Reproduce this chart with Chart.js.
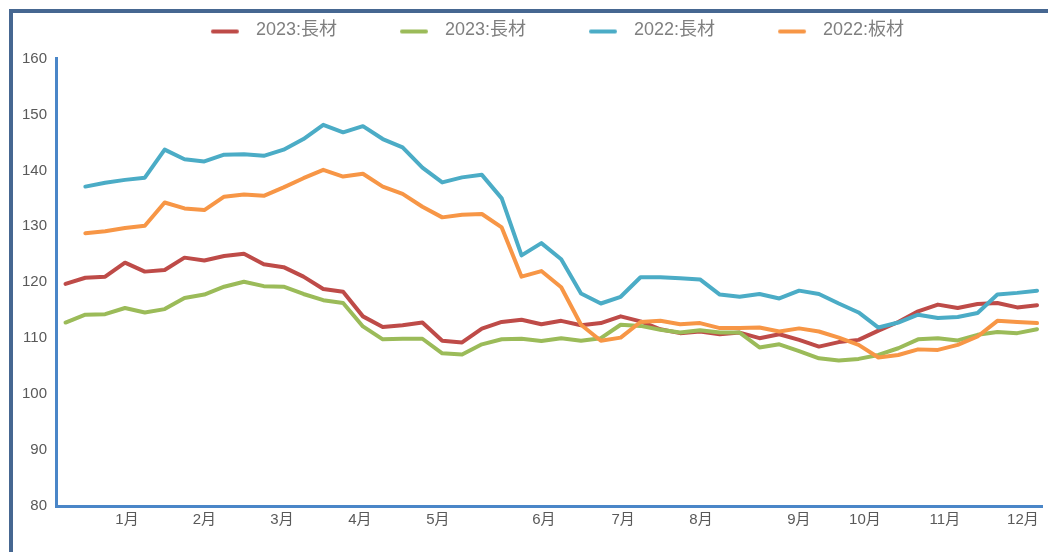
<!DOCTYPE html>
<html>
<head>
<meta charset="utf-8">
<script src="https://cdn.jsdelivr.net/npm/chart.js@4.4.0/dist/chart.umd.min.js"></script>
<style>
html,body{margin:0;padding:0;background:#fff;}
#wrap{position:relative;width:1048px;height:552px;overflow:hidden;background:#fff;}
#frameTop{position:absolute;left:9px;top:9px;width:1039px;height:3.5px;background:#466791;}
#frameLeft{position:absolute;left:9px;top:9px;width:3.5px;height:543px;background:#466791;}
canvas{position:absolute;left:0;top:0;}
</style>
</head>
<body>
<div id="wrap">
  <div id="frameTop"></div>
  <div id="frameLeft"></div>
  <canvas id="c" width="1048" height="552"></canvas>
</div>
<script>
// ---- data (weekly points, index 0..49) ----
const seriesNames = ['2023:長材', '2023:長材', '2022:長材', '2022:板材'];

const long2023a = [119.7,120.8,121.0,123.5,121.9,122.2,124.4,123.9,124.7,125.1,
                   123.2,122.7,121.0,118.8,118.3,113.9,112.0,112.3,112.8,109.55,
                   109.25,111.7,112.9,113.3,112.5,113.1,112.3,112.7,113.9,113.0,
                   111.6,110.9,111.2,110.7,111.0,110.0,110.7,109.7,108.5,109.3,
                   109.7,111.35,112.9,114.8,116.0,115.4,116.1,116.3,115.5,115.9];

const long2023b = [112.8,114.2,114.3,115.4,114.6,115.2,117.2,117.8,119.2,120.1,
                   119.3,119.2,117.9,116.8,116.3,112.1,109.8,109.9,109.9,107.3,
                   107.1,108.9,109.8,109.9,109.5,110.0,109.55,110.0,112.4,112.2,
                   111.5,111.0,111.4,111.0,111.0,108.35,108.9,107.7,106.4,106.0,
                   106.3,107.0,108.2,109.8,110.0,109.6,110.6,111.1,110.9,111.6];

const long2022 = [null,137.1,137.8,138.3,138.7,143.7,142.0,141.6,142.8,142.9,
                  142.6,143.7,145.6,148.15,146.8,147.9,145.6,144.1,140.5,137.85,
                  138.75,139.2,135.0,124.8,127.0,124.1,118.0,116.2,117.4,120.9,
                  120.9,120.7,120.5,117.8,117.4,117.9,117.1,118.5,117.9,116.2,
                  114.6,111.9,112.8,114.2,113.6,113.8,114.5,117.8,118.1,118.5];

const plate2022 = [null,128.75,129.1,129.7,130.1,134.25,133.2,132.9,135.3,135.7,
                   135.45,136.95,138.6,140.1,138.9,139.4,137.1,135.8,133.5,131.6,
                   132.05,132.2,129.8,121.0,122.0,119.1,112.4,109.55,110.1,112.9,
                   113.1,112.5,112.7,111.8,111.8,111.9,111.2,111.75,111.2,110.1,
                   108.8,106.55,107.0,108.0,107.9,108.8,110.3,113.1,112.9,112.7];

// month tick labels and where they sit on the week axis (in week-index units)
const monthLabels = ['1月','2月','3月','4月','5月','6月','7月','8月','9月','10月','11月','12月'];
const monthWeekPos = [3.1,7.0,10.92,14.85,18.78,24.13,28.12,32.05,36.99,40.32,44.35,48.29];

const yTicksMin = 80, yTicksMax = 160, yStep = 10;

// ---- styles ----
const colors = ['#be4b48', '#9bbb59', '#4bacc6', '#f79646'];
const axisColor = '#4a86c8';
const fontFamily = "'Liberation Sans', 'Noto Sans CJK JP', sans-serif";

function toPoints(arr){ return arr.map((v, i) => ({x: i, y: v})); }

function legendIcon(color){
  const c = document.createElement('canvas');
  c.width = 89; c.height = 8;
  const g = c.getContext('2d');
  g.strokeStyle = color; g.lineWidth = 4; g.lineCap = 'round';
  g.beginPath(); g.moveTo(55, 5); g.lineTo(79, 5); g.stroke();
  return c;
}

const allSeries = [long2023a, long2023b, long2022, plate2022];
const datasets = allSeries.map((arr, k) => ({
  label: seriesNames[k],
  data: toPoints(arr),
  borderColor: colors[k],
  backgroundColor: colors[k],
  borderWidth: 4,
  pointRadius: 0,
  pointHoverRadius: 0,
  tension: 0,
  fill: false,
  borderCapStyle: 'round',
  borderJoinStyle: 'round',
  order: 4 - k
}));

// lift the legend row closer to the top frame (as in the reference)
const legendLift = {
  id: 'legendLift',
  afterLayout(chart) {
    const lg = chart.legend;
    if (lg) { lg.top -= 9; lg.bottom -= 9; }
  }
};

new Chart(document.getElementById('c'), {
  type: 'line',
  data: { datasets },
  plugins: [legendLift],
  options: {
    responsive: false,
    devicePixelRatio: 1,
    animation: false,
    events: [],
    layout: { padding: { left: 20, right: 6, top: 1, bottom: 0 } },
    plugins: {
      tooltip: { enabled: false },
      legend: {
        position: 'top',
        align: 'center',
        labels: {
          usePointStyle: true,
          pointStyleWidth: 89,
          padding: 10,
          color: '#7f7f7f',
          font: { family: fontFamily, size: 18 },
          sort: (a, b) => a.datasetIndex - b.datasetIndex,
          generateLabels: (chart) => Chart.defaults.plugins.legend.labels.generateLabels(chart)
            .map(item => Object.assign(item, { pointStyle: legendIcon(colors[item.datasetIndex]) }))
        }
      }
    },
    scales: {
      x: {
        type: 'linear',
        min: -0.48,
        max: 49.25,
        grid: { display: false, drawTicks: false },
        border: { display: true, color: axisColor, width: 3 },
        afterBuildTicks: (s) => { s.ticks = monthWeekPos.map(v => ({ value: v })); },
        afterFit: (s) => { s.height = 46; s.paddingLeft = 0; s.paddingRight = 0; },
        ticks: {
          autoSkip: false,
          maxRotation: 0,
          minRotation: 0,
          padding: 5,
          color: '#595959',
          font: { family: fontFamily, size: 15 },
          callback: (v, i) => monthLabels[i]
        }
      },
      y: {
        min: yTicksMin,
        max: yTicksMax,
        grid: { display: false, drawTicks: false },
        border: { display: true, color: axisColor, width: 3 },
        afterFit: (s) => { s.width = 36; s.paddingTop = 58.5; s.paddingBottom = 0; },
        ticks: {
          stepSize: yStep,
          padding: 9,
          color: '#595959',
          font: { family: fontFamily, size: 15 }
        }
      }
    }
  }
});
</script>
</body>
</html>
